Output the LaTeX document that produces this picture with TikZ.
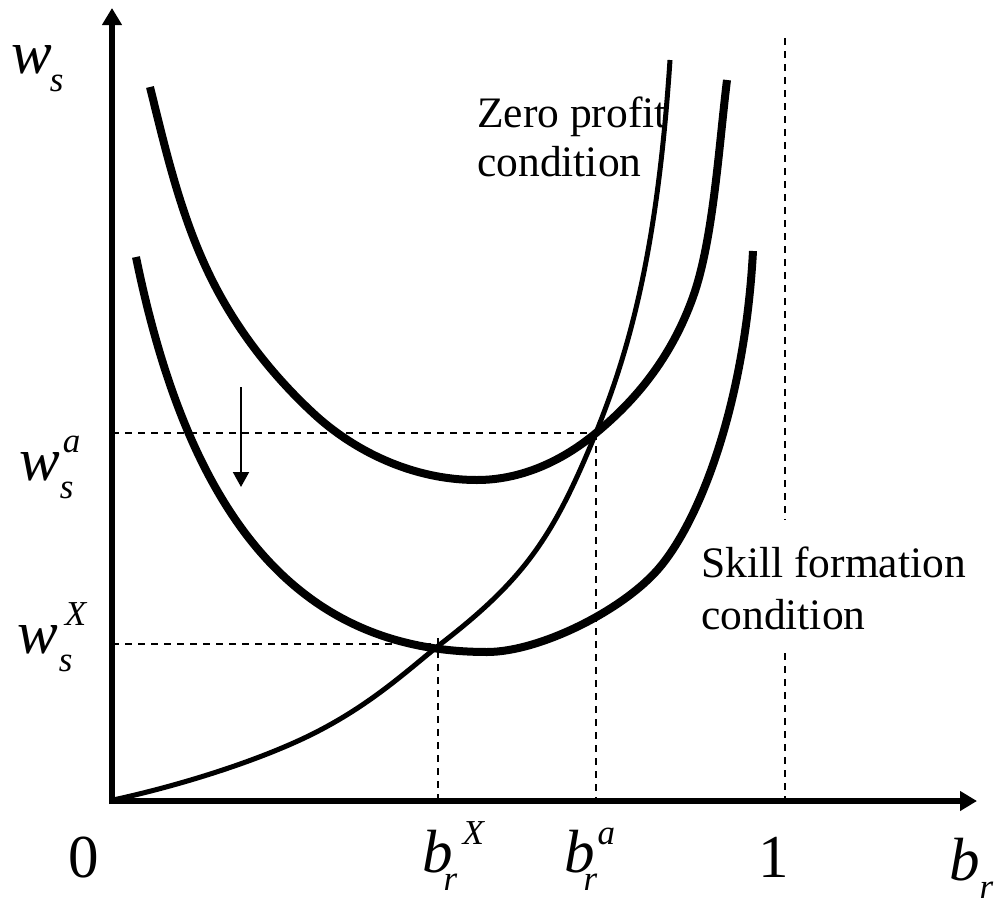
\documentclass[tikz,border=0pt]{standalone}
\usepackage{fontspec}
\setmainfont{Liberation Serif}
\usetikzlibrary{arrows.meta}
\newcommand\bigit{\fontsize{61}{61}\selectfont\itshape}
\newcommand\bigrm{\fontsize{61}{61}\selectfont}
\newcommand\smit{\fontsize{35}{35}\selectfont\itshape}
% #1 base, #2 subscript, #3 superscript, #4 sub kern, #5 sup kern
\newcommand\varlab[5]{{\bigit #1}\rlap{\kern#5\raisebox{28pt}{\smit #3}}\kern#4\raisebox{-18pt}{\smit #2}}
\begin{document}
\begin{tikzpicture}[x=1pt,y=-1pt,
  axis/.style={line width=5.5pt,-{Triangle[length=17pt,width=19pt]}},
  guide/.style={line width=1.5pt,dash pattern=on 7pt off 6pt},
  ucurve/.style={line width=8pt},
  zpcurve/.style={line width=5pt},
  downarrow/.style={line width=2pt,-{Triangle[length=15pt,width=16pt]}},
  lab/.style={anchor=base west,inner sep=0pt},
  txt/.style={anchor=base west,inner sep=0pt,font=\fontsize{43.5}{50}\selectfont}]
\useasboundingbox (0,0) rectangle (1002,902);

% named points
\coordinate (O) at (113,800);
\coordinate (ytop) at (112,8);
\coordinate (ybot) at (112,804);
\coordinate (xbeg) at (109,801);
\coordinate (xend) at (977,801);
\coordinate (Pa) at (596,433);
\coordinate (Px) at (438,646);
\coordinate (wa) at (112,433);
\coordinate (waend) at (603,433);
\coordinate (ba) at (596,801);
\coordinate (wx) at (112,644);
\coordinate (wxend) at (440,644);
\coordinate (bxtop) at (438,638);
\coordinate (bx) at (438,801);
\coordinate (onetop) at (785,38);
\coordinate (onegap1) at (785,520);
\coordinate (onegap2) at (785,653);
\coordinate (one) at (785,801);
\coordinate (arA) at (241,387);
\coordinate (arB) at (241,487);

% guides
\draw[guide] (wa) -- (waend);
\draw[guide] (Pa) -- (ba);
\draw[guide] (wx) -- (wxend);
\draw[guide] (bxtop) -- (bx);
\draw[guide] (onetop) -- (onegap1);
\draw[guide] (onegap2) -- (one);

% upper skill formation curve (a)
\draw[ucurve] (150,87) .. controls (166.3,153) and (181.6,219.2) .. (212,280)
  .. controls (237,330) and (272,374.9) .. (313,413)
  .. controls (353.3,450.5) and (412,480) .. (477,480)
  .. controls (520,480) and (561,462) .. (Pa)
  .. controls (626,408) and (668,367) .. (693,297)
  .. controls (713.2,240.6) and (719,145) .. (727,80);
% lower skill formation curve (X)
\draw[ucurve] (136,257) .. controls (192,531) and (307,652) .. (487,652)
  .. controls (540,652) and (624.8,609.4) .. (660,567)
  .. controls (701.6,517) and (745,401) .. (753,251);
% zero profit condition
\draw[zpcurve] (O) .. controls (173,787) and (245.5,765.1) .. (300,740)
  .. controls (363.6,710.7) and (402.5,674.7) .. (Px)
  .. controls (524.9,579.4) and (553.2,536.8) .. (595,435)
  .. controls (633,342.5) and (658,240) .. (670,60);

% axes
\draw[axis] (ybot) -- (ytop);
\draw[axis] (xbeg) -- (xend);

% shift arrow
\draw[downarrow] (arA) -- (arB);

% labels
\node[lab] (lws) at (11,73) {\varlab{w}{s}{}{-2pt}{0pt}};
\node[lab] (lwa) at (19,480) {\varlab{w}{s}{a}{0pt}{3pt}};
\node[lab] (lwx) at (17,653) {\varlab{w}{s}{X}{1pt}{7pt}};
\node[lab] (l0) at (68,877) {\bigrm 0};
\node[lab] (lbx) at (422,872) {\varlab{b}{r}{X}{-9pt}{10pt}};
\node[lab] (lba) at (564,872) {\varlab{b}{r}{a}{-11pt}{3pt}};
\node[lab] (l1) at (758,877) {\bigrm 1};
\node[lab] (lbr) at (949,880) {\varlab{b}{r}{}{0pt}{0pt}};

\node[txt] (zp1) at (477,127) {Zero profit};
\node[txt] (zp2) at (477,176) {condition};
\node[txt] (sf1) at (701,577) {Skill formation};
\node[txt] (sf2) at (701,629) {condition};
\end{tikzpicture}
\end{document}
